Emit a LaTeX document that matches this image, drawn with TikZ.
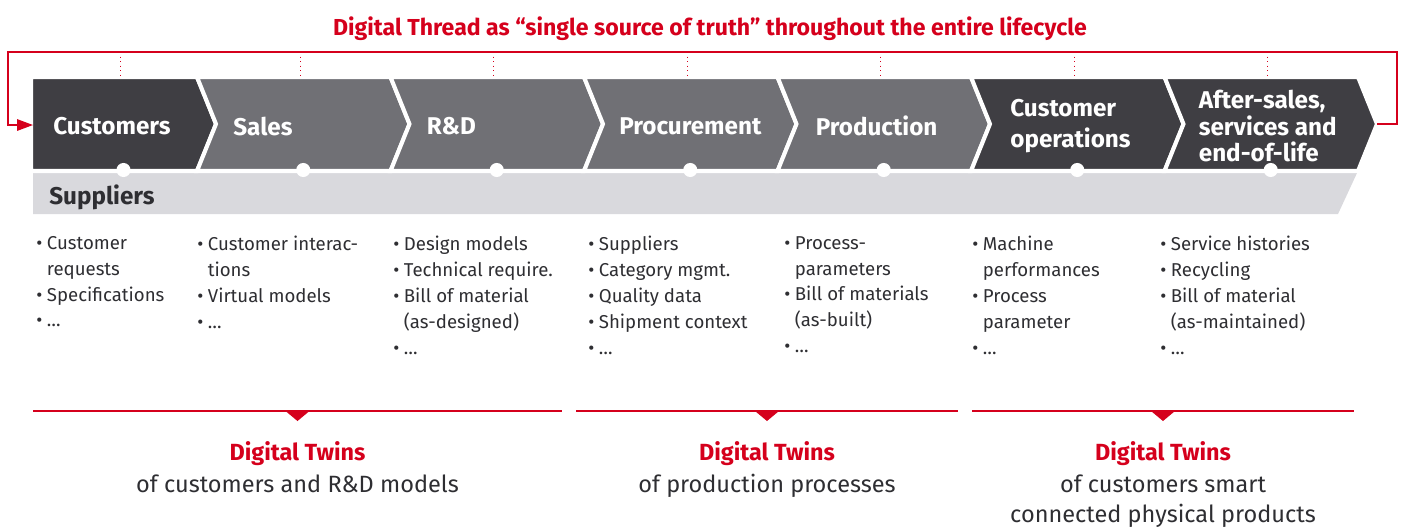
\documentclass[tikz,border=0pt]{standalone}
\usepackage{fontspec}
\setmainfont{Fira Sans}
\usepackage{xcolor}
\usetikzlibrary{arrows.meta, calc}

\definecolor{porred}{HTML}{D5001C}
\definecolor{stagedark}{HTML}{3F3E43}
\definecolor{stagemid}{HTML}{707075}
\definecolor{supgray}{HTML}{D9D9DD}
\definecolor{bodytext}{HTML}{2E2E32}

\newcommand{\bul}{\makebox[6pt][l]{\textbullet}}
\newcommand{\hang}{\hspace*{6pt}}

\tikzset{
  chevron/.style={draw=white, line width=2.3pt, line join=miter},
  stagelabel/.style={anchor=west, align=left, inner sep=0pt, text=white,
    font=\bfseries\fontsize{13.8}{15.1}\selectfont},
  stagedot/.style={circle, fill=white, inner sep=0pt, minimum size=8pt},
  thread/.style={porred, line width=0.6pt, dotted},
  frame/.style={porred, line width=0.8pt},
  items/.style={anchor=north west, align=left, inner sep=0pt, text=bodytext,
    font=\fontsize{10.6}{14.7}\selectfont},
  twinline/.style={porred, line width=0.8pt},
  twinhead/.style={anchor=base, inner sep=0pt, text=porred,
    font=\bfseries\fontsize{13.3}{17.6}\selectfont},
  twinsub/.style={anchor=north, align=center, inner sep=0pt, text=bodytext,
    font=\fontsize{13.4}{17.6}\selectfont}
}

\begin{document}
\begin{tikzpicture}[x=0.02cm, y=-0.02cm]
  \useasboundingbox (0,0) rectangle (1402,529);

  % title of the thread
  \node[inner sep=0pt, text=porred, font=\bfseries\fontsize{13.15}{15}\selectfont]
    (thread) at (710,29)
    {Digital Thread as “single source of truth” throughout the entire lifecycle};

  % suppliers band
  \fill[supgray] (33,173) -- (1357,173) -- (1338,214) -- (33,214) -- cycle;
  \node[anchor=west, inner sep=0pt, text=bodytext,
    font=\bfseries\fontsize{13.8}{15.1}\selectfont] (suppliers) at (49,197.5) {Suppliers};

  % value chain stages
  \foreach \i/\col/\L/\R/\n/\dx/\lbl in {
      1/stagedark/31/197/0/22/{Customers},
      2/stagemid/197/390.5/19/36/{Sales},
      3/stagemid/390.5/584/19/36/{R\&D},
      4/stagemid/584/777.5/19/35/{Procurement},
      5/stagemid/777.5/971/19/38/{Production},
      6/stagedark/971/1164.5/19/39/{Customer\\[2.5pt]operations},
      7/stagedark/1164.5/1358/19/34/{After-sales,\\services and\\end-of-life}} {
    \filldraw[chevron, fill=\col] (\L,77) -- (\R,77) -- (\R+19,124) -- (\R,171)
      -- (\L,171) -- (\L+\n,124) -- cycle;
    \node[stagelabel] (stage\i) at (\L+\dx,126) {\lbl};
    \pgfmathsetmacro{\mx}{(\L+\R+19)/2}
    \node[stagedot] (dot\i) at (\mx,170) {};
    \coordinate (thr\i) at (\mx-3,52);
    \coordinate (top\i) at (\mx-3,78);
    \draw[thread] (thr\i) -- (top\i);
  }
  \coordinate (tip7) at (1377,124);
  \coordinate (entry) at (33,125);

  % feedback loop of the digital thread
  \draw[frame, -{Triangle[length=9pt, width=6.5pt]}]
    (tip7) -- ++(20,0) |- (8,52) |- (entry);

  % data items per stage
  \node[items] (items1) at (36,236)
    {\bul Customer\\\hang requests\\\bul Specifications\\\bul …};
  \node[items] (items2) at (197,236)
    {\bul Customer interac-\\\hang tions\\\bul Virtual models\\\bul …};
  \node[items] (items3) at (393,236)
    {\bul Design models\\\bul Technical require.\\\bul Bill of material\\\hang (as-designed)\\\bul …};
  \node[items] (items4) at (588,236)
    {\bul Suppliers\\\bul Category mgmt.\\\bul Quality data\\\bul Shipment context\\\bul …};
  \node[items] (items5) at (784,236)
    {\bul Process-\\\hang parameters\\\bul Bill of materials\\\hang (as-built)\\\bul …};
  \node[items] (items6) at (972,236)
    {\bul Machine\\\hang performances\\\bul Process\\\hang parameter\\\bul …};
  \node[items] (items7) at (1160,236)
    {\bul Service histories\\\bul Recycling\\\bul Bill of material\\\hang (as-maintained)\\\bul …};

  % digital twin groups
  \foreach \i/\a/\b/\txt in {
      1/33/562/{of customers and R\&D models},
      2/576/958/{of production processes},
      3/972/1354/{of customers smart\\connected physical products}} {
    \coordinate (tw\i-a) at (\a,411);
    \coordinate (tw\i-b) at (\b,411);
    \draw[twinline] (tw\i-a) -- (tw\i-b);
    \fill[porred] ($(tw\i-a)!0.5!(tw\i-b)$) ++(-12,0) -- ++(24,0) -- ++(-12,10) -- cycle;
    \node[twinhead] (twin\i) at ($(tw\i-a)!0.5!(tw\i-b) + (0,49)$) {Digital Twins};
    \node[twinsub] (twinsub\i) at ($(tw\i-a)!0.5!(tw\i-b) + (0,63)$) {\txt};
  }
\end{tikzpicture}
\end{document}
